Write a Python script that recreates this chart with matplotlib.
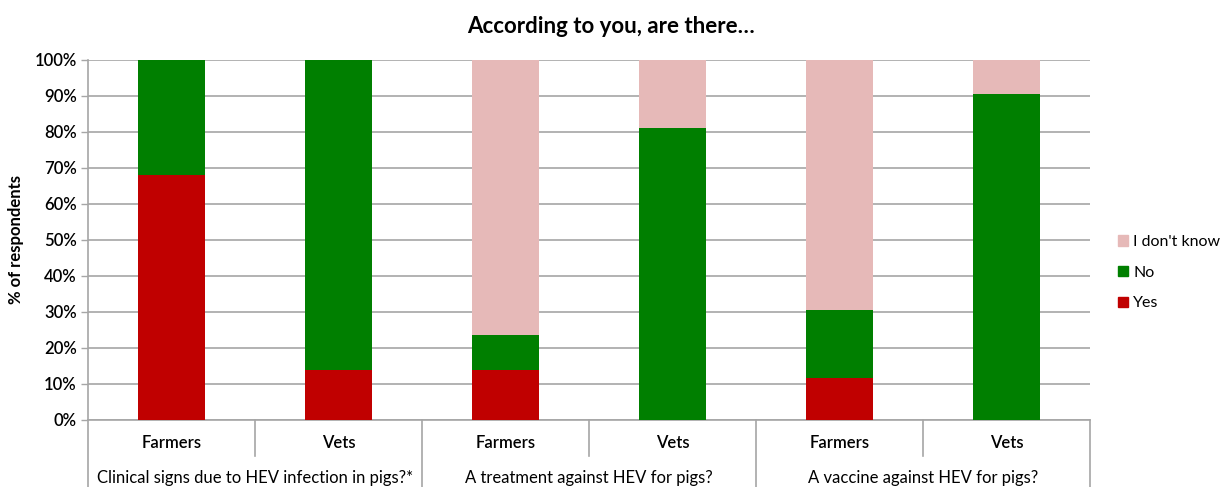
import numpy as np
import matplotlib.pyplot as plt
from matplotlib.patches import Patch

plt.rcParams['font.family'] = ['Lato', 'DejaVu Sans']

#%% data (% of respondents)
groups = ["Clinical signs due to HEV infection in pigs?*",
          "A treatment against HEV for pigs?",
          "A vaccine against HEV for pigs?"]
roles = ["Farmers", "Vets"]
yes = [68, 14, 14, 0, 11.8, 0]
no = [32, 86, 9.5, 81, 18.8, 90.5]
dont_know = [0, 0, 76.5, 19, 69.4, 9.5]

c_yes = "#C00000"
c_no = "#007F00"
c_dk = "#E6B9B8"
grey = "#A6A6A6"

#%% figure
fig = plt.figure(figsize=(12.22, 4.87), dpi=100)
ax = fig.add_axes([0.072, 0.1376, 0.82, 0.7392])

x = np.arange(len(yes))
yes = np.array(yes)
no = np.array(no)
dont_know = np.array(dont_know)
w = 0.4
ax.bar(x, yes, w, color=c_yes, zorder=3)
ax.bar(x, no, w, bottom=yes, color=c_no, zorder=3)
ax.bar(x, dont_know, w, bottom=yes + no, color=c_dk, zorder=3)

ax.set_xlim(-0.5, len(x) - 0.5)
ax.set_ylim(0, 100)
ax.set_yticks(np.arange(0, 101, 10))
ax.set_yticklabels([f"{v}%" for v in range(0, 101, 10)], fontsize=12, fontweight="semibold")
ax.tick_params(axis="y", length=5, color=grey, width=1, pad=3)
ax.yaxis.grid(True, color=grey, linewidth=1.2, zorder=0)
ax.set_ylabel("% of respondents", fontsize=12, fontweight="bold", labelpad=8)

for s in ["top", "right"]:
    ax.spines[s].set_visible(False)
ax.spines["left"].set_color(grey)
ax.spines["bottom"].set_color(grey)
ax.spines["left"].set_linewidth(1.2)
ax.spines["bottom"].set_linewidth(1.2)

# two-level category axis
ax.set_xticks([])
tr = ax.get_xaxis_transform()
for i in x:
    ax.text(i, -0.065, roles[i % 2], transform=tr, ha="center", va="center",
            fontsize=12, fontweight="semibold")
for g, name in enumerate(groups):
    ax.text(2 * g + 0.5, -0.16, name, transform=tr, ha="center", va="center", fontsize=12)
    ax.plot([2 * g + 0.5] * 2, [0, -0.1], transform=tr, color=grey, lw=1.2, clip_on=False)
for b in np.arange(-0.5, len(x), 2):
    ax.plot([b, b], [0, -0.19], transform=tr, color=grey, lw=1.2, clip_on=False)

fig.text(0.5, 0.945, "According to you, are there…", ha="center", va="center",
         fontsize=16, fontweight="bold")

handles = [Patch(color=c_dk), Patch(color=c_no), Patch(color=c_yes)]
fig.legend(handles, ["I don't know", "No", "Yes"], loc="center left",
           bbox_to_anchor=(0.903, 0.44), frameon=False, fontsize=11.5,
           handlelength=0.65, handleheight=0.65, handletextpad=0.3, labelspacing=1.05)

fig.savefig("out.png", dpi=100)
